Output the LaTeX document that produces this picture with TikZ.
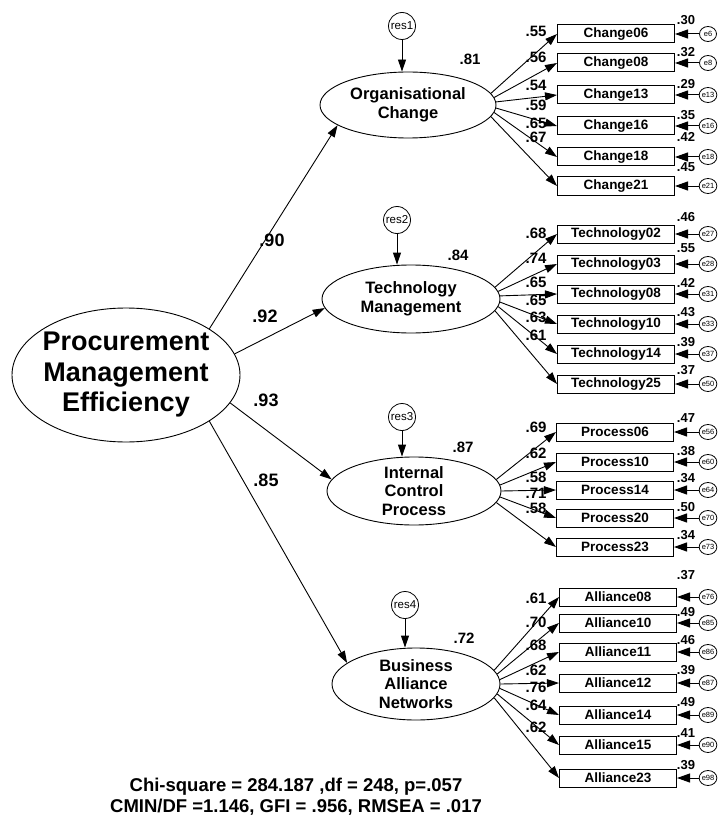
\documentclass[tikz,border=0pt]{standalone}
\usepackage{fontspec}
\setmainfont{Liberation Sans}
\usetikzlibrary{shapes.geometric}
\usetikzlibrary{arrows.meta}

\newcommand{\amosfont}[2]{\fontsize{#1}{#2}\selectfont\bfseries}

\tikzset{
  latent/.style={ellipse, draw, line width=0.9pt, inner sep=0pt},
  lattxt/.style={align=center, inner sep=0pt, font=\amosfont{16.5}{18.5}},
  obs/.style={draw, line width=1pt, minimum width=117pt, minimum height=18pt, inner sep=0pt, font=\amosfont{13.5}{15}},
  err/.style={ellipse, draw, line width=0.8pt, minimum width=17pt, minimum height=15pt, inner sep=0pt, font=\fontsize{7.5}{8}\selectfont},
  res/.style={circle, draw, line width=0.8pt, minimum size=27pt, inner sep=0pt, font=\fontsize{11.5}{12}\selectfont},
  ldlab/.style={inner sep=0pt, font=\amosfont{15}{16}},
  varlab/.style={inner sep=0pt, font=\amosfont{13}{14}},
  coef/.style={inner sep=0pt, font=\amosfont{18}{20}},
  amos/.style={line width=0.9pt, -{Triangle[length=12pt,width=8pt]}},
  erramos/.style={line width=1pt, -{Triangle[length=13pt,width=9pt]}}
}

\begin{document}
\begin{tikzpicture}[x=1pt,y=-1pt]
  \useasboundingbox (0,0) rectangle (717,821);

  \node[latent, minimum width=228pt, minimum height=134pt] (PME) at (126,375) {};
  \node[lattxt, font=\amosfont{27}{30.5}] (PMEt) at (PME) {Procurement\\Management\\Efficiency};

  \node[latent, minimum width=176pt, minimum height=66pt] (OC) at (408,105) {};
  \node[lattxt] (OCt) at (OC) {Organisational\\Change};
  \node[latent, minimum width=178pt, minimum height=68pt] (TM) at (411,299) {};
  \node[lattxt] (TMt) at (TM) {Technology\\Management};
  \node[latent, minimum width=174pt, minimum height=68pt] (ICP) at (414,491) {};
  \node[lattxt] (ICPt) at (ICP) {Internal\\Control\\Process};
  \node[latent, minimum width=168pt, minimum height=72pt] (BAN) at (416,684) {};
  \node[lattxt] (BANt) at (BAN) {Business\\Alliance\\Networks};

  \node[res] (res1) at (402,26) {res1};
  \node[res] (res2) at (397,220) {res2};
  \node[res] (res3) at (402,417) {res3};
  \node[res] (res4) at (405,605) {res4};
  \draw[amos] (res1) -- (res1 |- OC.north);
  \draw[amos] (res2) -- (res2 |- TM.north);
  \draw[amos] (res3) -- (res3 |- ICP.north);
  \draw[amos] (res4) -- (res4 |- BAN.north);

  \node[ldlab] (rOC) at (470,59) {.81};
  \node[ldlab] (rTM) at (458,255) {.84};
  \node[ldlab] (rICP) at (463,447) {.87};
  \node[ldlab] (rBAN) at (464,638) {.72};

  \draw[amos] (PME.29) -- (OC.196);
  \draw[amos] (PME.11) -- (TM.186);
  \draw[amos] (PME.-15) -- (ICP.172);
  \draw[amos] (PME.-29) -- (BAN.163);
  \node[coef] (cOC) at (272,240) {.90};
  \node[coef] (cTM) at (265,316) {.92};
  \node[coef] (cICP) at (266,400) {.93};
  \node[coef] (cBAN) at (266,480) {.85};

  \foreach \nm/\y/\ly/\lv/\vy/\vv/\er/\a in {
      Change06/34/31/.55/20/.30/e6/8, Change08/63/57/.56/52/.32/e8/5,
      Change13/95/85/.54/84/.29/e13/2, Change16/126/105/.59/115/.35/e16/-2,
      Change18/157/123/.65/137/.42/e18/-5, Change21/186/137/.67/167/.45/e21/-8}{
    \node[obs] (\nm) at (616,\y) {\nm};
    \node[err] (\er) at (708,\y) {\er};
    \draw[amos] (OC.\a) -- (\nm.west);
    \draw[erramos] (\er) -- (\nm.east);
    \node[ldlab] (l\nm) at (536,\ly) {\lv};
    \node[varlab] (v\nm) at (686,\vy) {\vv};
  }

  \foreach \nm/\y/\ly/\lv/\vy/\vv/\er/\a in {
      Technology02/234/233/.68/217/.46/e27/8, Technology03/264/258/.74/248/.55/e28/5,
      Technology08/294/282/.65/283/.42/e31/2, Technology10/324/300/.65/312/.43/e33/-2,
      Technology14/354/317/.63/342/.39/e37/-5, Technology25/384/335/.61/370/.37/e50/-8}{
    \node[obs] (\nm) at (616,\y) {\nm};
    \node[err] (\er) at (708,\y) {\er};
    \draw[amos] (TM.\a) -- (\nm.west);
    \draw[erramos] (\er) -- (\nm.east);
    \node[ldlab] (l\nm) at (536,\ly) {\lv};
    \node[varlab] (v\nm) at (686,\vy) {\vv};
  }

  \foreach \nm/\y/\ly/\lv/\vy/\vv/\er/\a in {
      Process06/432/427/.69/418/.47/e56/8, Process10/462/453/.62/451/.38/e60/4,
      Process14/490/477/.58/478/.34/e64/0, Process20/518/493/.71/507/.50/e70/-4,
      Process23/547/508/.58/535/.34/e73/-8}{
    \node[obs] (\nm) at (615,\y) {\nm};
    \node[err] (\er) at (708,\y) {\er};
    \draw[amos] (ICP.\a) -- (\nm.west);
    \draw[erramos] (\er) -- (\nm.east);
    \node[ldlab] (l\nm) at (536,\ly) {\lv};
    \node[varlab] (v\nm) at (686,\vy) {\vv};
  }

  \foreach \nm/\y/\ly/\lv/\vy/\vv/\er/\a in {
      Alliance08/597/598/.61/575/.37/e76/10, Alliance10/623/622/.70/612/.49/e85/7,
      Alliance11/652/645/.68/640/.46/e86/3, Alliance12/683/670/.62/670/.39/e87/0,
      Alliance14/715/687/.76/702/.49/e89/-3, Alliance15/745/705/.64/733/.41/e90/-7,
      Alliance23/778/727/.62/765/.39/e98/-10}{
    \node[obs] (\nm) at (618,\y) {\nm};
    \node[err] (\er) at (708,\y) {\er};
    \draw[amos] (BAN.\a) -- (\nm.west);
    \draw[erramos] (\er) -- (\nm.east);
    \node[ldlab] (l\nm) at (536,\ly) {\lv};
    \node[varlab] (v\nm) at (686,\vy) {\vv};
  }

  \node[align=center, font=\amosfont{18.5}{21}] (fit) at (296,797) {Chi-square = 284.187 ,df = 248, p=.057\\CMIN/DF =1.146, GFI = .956, RMSEA = .017};
\end{tikzpicture}
\end{document}
